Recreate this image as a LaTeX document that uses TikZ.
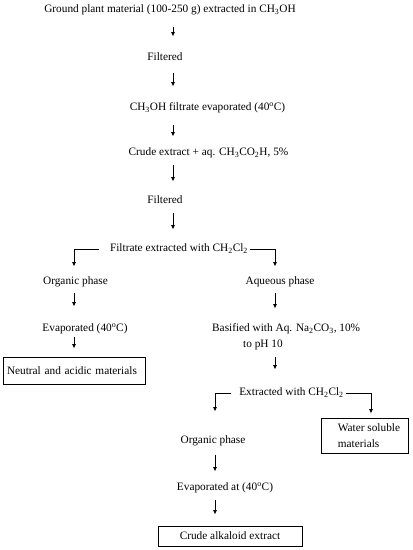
\documentclass[tikz,border=0pt]{standalone}
\usepackage{fontspec}
\setmainfont{Liberation Serif}
\usetikzlibrary{arrows.meta}

\tikzset{
  stage/.style={inner xsep=2pt, inner ysep=2pt, text height=8pt, text depth=2.5pt},
  twoline/.style={inner xsep=2pt, inner ysep=2pt, align=left},
  outcome/.style={draw, line width=0.8pt, inner xsep=4pt, inner ysep=2pt},
  flow/.style={line width=0.9pt, -{Latex[length=4.5pt,width=4pt]}},
  branch/.style={line width=0.9pt, -{Latex[length=4.5pt,width=4pt]}}
}

\begin{document}
\begin{tikzpicture}[x=1pt,y=-1pt,font=\fontsize{11.3}{16}\selectfont]
\useasboundingbox (0,0) rectangle (413,550);

% the columns the arrows run down
\coordinate (colMain) at (173,0);
\coordinate (colL) at (74,0);
\coordinate (colR) at (275,0);
\coordinate (colB) at (215,0);
\coordinate (colW) at (371,0);

% main line
\node[stage] (ground) at (170,10) {Ground plant material (100-250 g) extracted in CH\textsubscript{3}OH};
\node[stage] (filt1) at (165,58) {Filtered};
\node[stage] (evap1) at (207.5,108) {CH\textsubscript{3}OH filtrate evaporated (40\textsuperscript{o}C)};
\node[stage] (crude) at (208.5,153) {Crude extract + aq. CH\textsubscript{3}CO\textsubscript{2}H, 5\%};
\node[stage] (filt2) at (165,201) {Filtered};
\node[stage] (filtrate) at (179,249) {Filtrate extracted with CH\textsubscript{2}Cl\textsubscript{2}};

% left branch
\node[stage] (orgL) at (75.5,282) {Organic phase};
\node[stage] (evapL) at (85,329) {Evaporated (40\textsuperscript{o}C)};
\node[outcome, text width=134pt, align=left, minimum height=27pt] (neutral) at (74,370.5) {Neutral and acidic materials};

% right branch
\node[stage] (aqR) at (280,282) {Aqueous phase};
\node[twoline, anchor=west] (basif) at (210,337) {Basified with Aq. Na\textsubscript{2}CO\textsubscript{3}, 10\%\\\hspace*{31pt}to pH 10};
\node[stage] (extr2) at (291.5,393) {Extracted with CH\textsubscript{2}Cl\textsubscript{2}};
\node[outcome, align=left, minimum width=87pt, minimum height=35pt] (water) at (364.5,436) {\hspace*{9pt}Water soluble\\\hspace*{9pt}materials};
\node[stage] (orgR) at (213,441) {Organic phase};
\node[stage] (evapR) at (225,488) {Evaporated at (40\textsuperscript{o}C)};
\node[outcome, minimum width=144pt, minimum height=20pt] (alkaloid) at (230,536) {Crude alkaloid extract};

% arrows
\draw[flow, shorten <=10pt, shorten >=14pt] (ground.south -| colMain) -- (filt1.north -| colMain);
\draw[flow, shorten <=8pt, shorten >=14pt] (filt1.south -| colMain) -- (evap1.north -| colMain);
\draw[flow, shorten <=10pt, shorten >=9pt] (evap1.south -| colMain) -- (crude.north -| colMain);
\draw[flow, shorten <=5pt, shorten >=12pt] (crude.south -| colMain) -- (filt2.north -| colMain);
\draw[flow, shorten <=5pt, shorten >=12pt] (filt2.south -| colMain) -- (filtrate.north -| colMain);

\draw[branch, shorten <=9pt, shorten >=8pt] (filtrate.west) -| (orgL.north -| colL);
\draw[branch, shorten >=8pt] (filtrate.east) -| (aqR.north -| colR);

\draw[flow, shorten <=4pt, shorten >=15pt] (orgL.south -| colL) -- (evapL.north -| colL);
\draw[flow, shorten <=1pt, shorten >=8pt] (evapL.south -| colL) -- (neutral.north -| colL);

\draw[flow, shorten <=4pt, shorten >=13pt] (aqR.south -| colR) -- (basif.north -| colR);
\draw[flow, shorten <=5pt, shorten >=16pt] (basif.south -| colR) -- (extr2.north -| colR);

\draw[branch, shorten <=6pt, shorten >=22pt] (extr2.west) -| (orgR.north -| colB);
\draw[branch, shorten >=4.5pt] (extr2.east) -| (water.north -| colW);

\draw[flow, shorten <=7pt, shorten >=9pt] (orgR.south -| colB) -- (evapR.north -| colB);
\draw[flow, shorten <=5pt, shorten >=11pt] (evapR.south -| colB) -- (alkaloid.north -| colB);

\end{tikzpicture}
\end{document}
